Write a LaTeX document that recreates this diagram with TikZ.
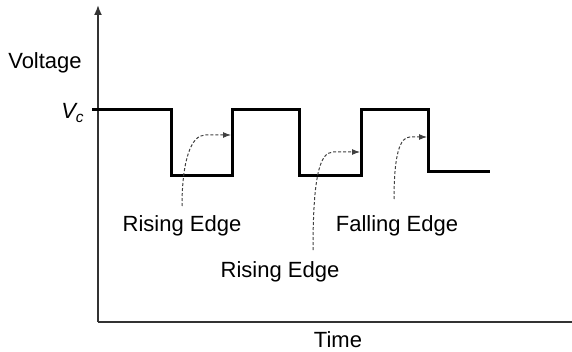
\documentclass[tikz,border=0pt]{standalone}
\usepackage{fontspec}
\setmainfont{Liberation Sans}
\usepackage{tikz}
\usetikzlibrary{arrows,arrows.meta}

\begin{document}
\begin{tikzpicture}[x=0.5pt,y=-0.5pt,>=latex',font=\fontsize{11}{13}\selectfont]
	\tikzstyle{axis} = [draw=black!80, line width=0.9pt]
	\tikzstyle{wave} = [draw=black, line width=1.5pt]
	\tikzstyle{pointer} = [draw=black!75, line width=0.5pt, dash pattern=on 1.5pt off 1pt]
	\tikzstyle{txt} = [anchor=base, inner sep=0pt]
	\useasboundingbox (0,0) rectangle (572,352);
	%Axes and labels
	\coordinate (origin) at (98,322);
	\coordinate (ytop) at (98,5);
	\coordinate (xend) at (572,322);
	\node [txt] at (45,69) (voltage) {Voltage};
	\node [txt] at (73,119) (vc) {\textit{V\textsubscript{c}}};
	\node [txt] at (338,347) (time) {Time};
	\draw[axis,-{Latex[length=5pt,width=4pt]}] (origin) -- (ytop);
	\draw[axis] (origin) -- (xend);
	%Waveform
	\draw[wave] (92,110) -- (171,110) -- (171,176) -- (232,176) -- (232,110)
		-- (299,110) -- (299,176) -- (361,176) -- (361,110) -- (428,110)
		-- (428,172) -- (490,172);
	\coordinate (rise1) at (231,135);
	\coordinate (rise2) at (360,152);
	\coordinate (fall1) at (427,137);
	%Edge labels
	\node [txt] at (182,231) (risinga) {Rising Edge};
	\node [txt] at (280,277) (risingb) {Rising Edge};
	\node [txt] at (397,231) (falling) {Falling Edge};
	\coordinate (taila) at (182,206);
	\coordinate (tailb) at (313,250);
	\coordinate (tailc) at (394,199);
	%Pointers
	\begin{scope}[pointer,-{Latex[length=4pt,width=3pt]}]
	\draw (taila) .. controls +(0,-45) and +(-14,0) .. (205,135) -- (rise1);
	\draw (tailb) .. controls +(0,-70) and +(-14,0) .. (333,152) -- (rise2);
	\draw (tailc) .. controls +(0,-45) and +(-10,0) .. (410,137) -- (fall1);
	\end{scope}
\end{tikzpicture}
\end{document}
